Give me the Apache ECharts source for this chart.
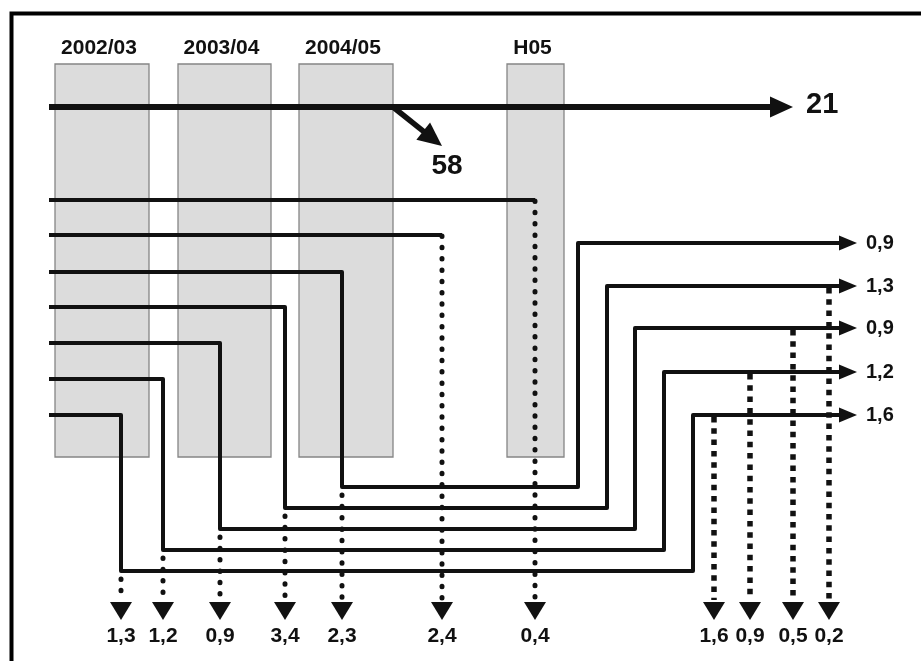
<!DOCTYPE html>
<html><head><meta charset="utf-8">
<script src="https://cdn.jsdelivr.net/npm/echarts@6/dist/echarts.min.js"></script>
<style>html,body{margin:0;padding:0;background:#fff}#c{width:921px;height:661px}</style>
</head><body><div id="c"></div>
<script>
// ---- data ----
const periods = ['2002/03', '2003/04', '2004/05', 'H05'];
const mainContinue = 21;          // arrow to the right
const mainDiverted = 58;          // diagonal arrow
// per stream, top to bottom: value leaving downward at the bottom
const bottomValues = [0.4, 2.4, 2.3, 3.4, 0.9, 1.2, 1.3];
// streams 3..7 leave to the right
const rightValues = [0.9, 1.3, 0.9, 1.2, 1.6];
// values dropping from the right-hand exits (source stream index)
const rightDownValues = [1.6, 0.9, 0.5, 0.2];
const rightDownSource = [6, 5, 4, 3];

// ---- layout (pixel space of the drawing) ----
const L = {
  barX: [[55, 149], [178, 271], [299, 393], [507, 564]], barTop: 64, barBottom: 457, labelY: 48,
  lineStart: 49, mainY: 107, mainTip: 793, splitFrom: 393, splitTip: [442, 146],
  streamY: [200, 235, 272, 307, 343, 379, 415],
  turnX: [535, 442, 342, 285, 220, 163, 121],
  returnY: [null, null, 487, 508, 529, 550, 571],
  riseX: [null, null, 578, 607, 635, 664, 693],
  exitY: [null, null, 243, 286, 328, 372, 415],
  exitTip: 857, bottomTip: 620, bottomHead: 18, labelBottomY: 636,
  rightDownX: [714, 750, 793, 829]
};

const fmt = v => v.toFixed(1).replace('.', ',');
const FONT = '"Liberation Sans", Arial, sans-serif';
const INK = '#111';

function P(api, pts) { return pts.map(p => api.coord(p)); }
function solid(api, pts, w) {
  return { type: 'polyline', shape: { points: P(api, pts) },
    style: { stroke: INK, fill: 'none', lineWidth: w || 4, lineJoin: 'round', lineCap: 'butt' } };
}
function dotted(api, pts) {
  return { type: 'polyline', shape: { points: P(api, pts) },
    style: { stroke: INK, fill: 'none', lineWidth: 5, lineDash: [0.5, 10.8], lineCap: 'round' } };
}
function squares(api, pts) {
  return { type: 'polyline', shape: { points: P(api, pts) },
    style: { stroke: INK, fill: 'none', lineWidth: 5.5, lineDash: [5.5, 5.8], lineCap: 'butt' } };
}
function tri(api, pts) {
  return { type: 'polygon', shape: { points: P(api, pts) }, style: { fill: INK } };
}
function txt(api, p, s, size, align) {
  const c = api.coord(p);
  return { type: 'text', x: c[0], y: c[1],
    style: { text: s, fill: INK, font: 'bold ' + size + 'px ' + FONT, align: align || 'center', verticalAlign: 'middle' } };
}
function downArrow(api, x) {
  const h = L.bottomHead, t = L.bottomTip;
  return tri(api, [[x - 11, t - h], [x + 11, t - h], [x, t]]);
}

const chart = echarts.init(document.getElementById('c'), null, { renderer: 'canvas' });
chart.setOption({
  animation: false,
  backgroundColor: '#fff',
  grid: { left: 0, right: 0, top: 0, bottom: 0 },
  xAxis: { type: 'value', min: 0, max: 921, show: false },
  yAxis: { type: 'value', min: 0, max: 661, inverse: true, show: false },
  series: [
    { // frame
      type: 'custom', data: [[0, 0]],
      renderItem: (params, api) => ({ type: 'polyline',
        shape: { points: P(api, [[11.5, 661], [11.5, 13.5], [921, 13.5]]) },
        style: { stroke: '#000', fill: 'none', lineWidth: 4, lineJoin: 'miter' } })
    },
    { // period columns
      type: 'custom', data: periods.map((p, i) => [i, 0]),
      renderItem: (params, api) => {
        const i = api.value(0), b = L.barX[i];
        const c1 = api.coord([b[0], L.barTop]), c2 = api.coord([b[1], L.barBottom]);
        return { type: 'group', children: [
          { type: 'rect', shape: { x: c1[0], y: c1[1], width: c2[0] - c1[0], height: c2[1] - c1[1] },
            style: { fill: '#dcdcdc', stroke: '#858585', lineWidth: 1.3 } },
          txt(api, [(b[0] + b[1]) / 2 - 3, L.labelY], periods[i], 21)
        ] };
      }
    },
    { // main flow
      type: 'custom', data: [[mainContinue, 0], [mainDiverted, 1]],
      renderItem: (params, api) => {
        const v = api.value(0), k = api.value(1);
        if (k === 0) {
          const t = L.mainTip;
          return { type: 'group', children: [
            solid(api, [[L.lineStart, L.mainY], [t - 20, L.mainY]], 6),
            tri(api, [[t - 23, L.mainY - 10.5], [t - 23, L.mainY + 10.5], [t, L.mainY]]),
            txt(api, [t + 13, L.mainY - 2], String(v), 29, 'left')
          ] };
        }
        const s = [L.splitFrom, L.mainY], e = L.splitTip;
        const dx = e[0] - s[0], dy = e[1] - s[1], len = Math.hypot(dx, dy);
        const ux = dx / len, uy = dy / len, hl = 24, hw = 11;
        const bc = [e[0] - ux * hl, e[1] - uy * hl];
        return { type: 'group', children: [
          solid(api, [s, [bc[0] + ux * 2, bc[1] + uy * 2]], 5.5),
          tri(api, [[bc[0] - uy * hw, bc[1] + ux * hw], [bc[0] + uy * hw, bc[1] - ux * hw], e]),
          txt(api, [e[0] + 5, e[1] + 20], String(v), 28)
        ] };
      }
    },
    { // streams
      type: 'custom', data: bottomValues.map((v, i) => [i, v]),
      renderItem: (params, api) => {
        const i = api.value(0), v = api.value(1);
        const y = L.streamY[i], tx = L.turnX[i], ch = [];
        const dotEnd = L.bottomTip - L.bottomHead - 2;
        if (L.returnY[i] == null) {
          ch.push(solid(api, [[L.lineStart, y], [tx, y]]));
          ch.push(dotted(api, [[tx, y + 1], [tx, dotEnd]]));
        } else {
          const ry = L.returnY[i], rx = L.riseX[i], ey = L.exitY[i];
          ch.push(solid(api, [[L.lineStart, y], [tx, y], [tx, ry], [rx, ry], [rx, ey], [L.exitTip - 14, ey]]));
          ch.push(tri(api, [[L.exitTip - 18, ey - 7.5], [L.exitTip - 18, ey + 7.5], [L.exitTip, ey]]));
          ch.push(txt(api, [L.exitTip + 9, ey], fmt(rightValues[i - 2]), 20, 'left'));
          ch.push(dotted(api, [[tx, ry + 8], [tx, dotEnd]]));
        }
        ch.push(downArrow(api, tx));
        ch.push(txt(api, [tx, L.labelBottomY], fmt(v), 21));
        return { type: 'group', children: ch };
      }
    },
    { // drops from the right-hand exits
      type: 'custom', data: rightDownValues.map((v, k) => [k, v]),
      renderItem: (params, api) => {
        const k = api.value(0), v = api.value(1);
        const x = L.rightDownX[k], y0 = L.exitY[rightDownSource[k]];
        return { type: 'group', children: [
          squares(api, [[x, y0 + 2], [x, L.bottomTip - L.bottomHead - 2]]),
          downArrow(api, x),
          txt(api, [x, L.labelBottomY], fmt(v), 21)
        ] };
      }
    }
  ]
});
</script></body></html>
